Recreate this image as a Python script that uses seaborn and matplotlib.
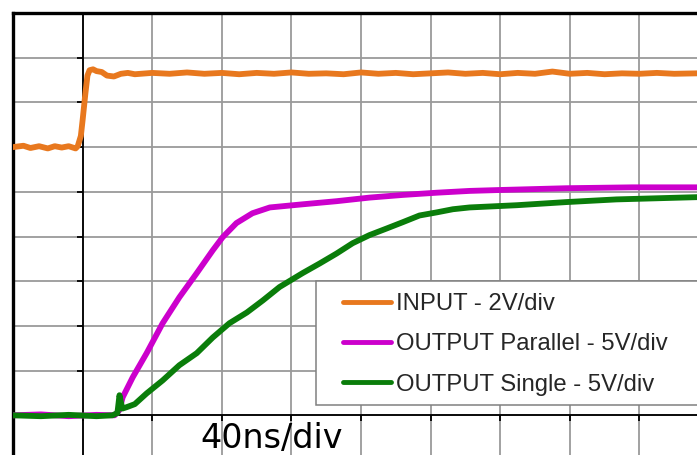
import matplotlib
matplotlib.use("Agg")
import matplotlib.pyplot as plt
import seaborn as sns
import pandas as pd
from matplotlib.patches import Rectangle

# ---- data (time in ns, amplitude in screen divisions) ----
input_t = [-40, -34, -30, -25, -20, -16, -12, -8, -4, -2.8, -1, 0, 1.6, 2.8, 4, 6, 8, 11, 14, 18, 22,
           26, 30, 40, 50, 60, 70, 80, 90, 100, 110, 120, 130, 140, 150, 160, 170, 180, 190, 200,
           210, 220, 230, 240, 250, 260, 270, 280, 290, 300, 310, 320, 330, 340, 353]
input_v = [6.00, 6.03, 5.98, 6.02, 5.97, 6.02, 5.99, 6.02, 5.97, 6.02, 6.25, 6.6, 7.2, 7.6, 7.72,
           7.74, 7.70, 7.68, 7.60, 7.58, 7.64, 7.66, 7.63, 7.66, 7.64, 7.67, 7.64, 7.66, 7.63,
           7.66, 7.64, 7.67, 7.64, 7.65, 7.63, 7.67, 7.64, 7.66, 7.63, 7.65, 7.67, 7.64, 7.66,
           7.63, 7.66, 7.64, 7.69, 7.64, 7.66, 7.63, 7.65, 7.64, 7.66, 7.64, 7.65]

par_t = [-40, -24, -8, 8, 18.4, 21.2, 23, 28.8, 36.8, 46, 55.6, 65.6, 74.8, 80.4, 88.4,
         97.6, 107.6, 126.4, 146, 164.8, 184, 203.6, 222.4, 239.6, 278, 316, 353]
par_v = [0.00, 0.02, -0.02, 0.01, 0.00, 0.12, 0.40, 0.85, 1.39, 2.06, 2.64, 3.18, 3.69,
         3.98, 4.30, 4.52, 4.65, 4.72, 4.79, 4.87, 4.93, 4.98, 5.02, 5.04, 5.08, 5.10, 5.10]

sgl_t = [-40, -24, -8, 8, 17.2, 20, 21.2, 22.8, 25.2, 30, 36.8, 46, 55.6, 65.6, 74.8,
         84.4, 94.4, 103.6, 113.2, 126.4, 136.4, 146, 155.2, 164.8, 174.8, 184, 193.6,
         203.6, 212.8, 222.4, 249.6, 278, 306.8, 353]
sgl_v = [0.00, -0.02, 0.01, -0.02, 0.00, 0.05, 0.45, 0.15, 0.18, 0.25, 0.49, 0.78, 1.12,
         1.39, 1.74, 2.06, 2.30, 2.57, 2.87, 3.18, 3.40, 3.62, 3.85, 4.03, 4.18, 4.32,
         4.47, 4.54, 4.61, 4.65, 4.70, 4.77, 4.83, 4.88]

labels = ["INPUT - 2V/div", "OUTPUT Parallel - 5V/div", "OUTPUT Single - 5V/div"]
colors = ["#E8781E", "#CC00CC", "#0A7D0A"]
x_div = list(range(-40, 361, 40))
y_div = list(range(-1, 10))

sns.set_style("white")
plt.rcParams['font.family'] = ['Liberation Sans', 'DejaVu Sans']

W, H = 697, 455
fig = plt.figure(figsize=(W / 100, H / 100), dpi=100)
# axes box extends slightly past the right and bottom image edges (cropped scope screen)
ax = fig.add_axes([13 / W, (H - 460) / H, 696 / W, 447 / H])
ax.set_xlim(-40, 360)
ax.set_ylim(-1, 9)

ax.set_xticks(x_div)
ax.set_yticks(y_div)
ax.tick_params(length=0, labelbottom=False, labelleft=False)
ax.grid(True, color="#9a9a9a", linewidth=1.3)
for s in ["right", "bottom"]:
    ax.spines[s].set_visible(False)
for s in ["left", "top"]:
    ax.spines[s].set_color("black")
    ax.spines[s].set_linewidth(2.4)

# centre axes with small tick marks
ax.axvline(0, color="black", lw=1.3, zorder=1.5)
ax.axhline(0, color="black", lw=1.3, zorder=1.5)
ax.plot([0] * len(y_div), y_div, linestyle="none", marker=0, markersize=4,
        markeredgewidth=1.3, color="black", zorder=1.5)
ax.plot(x_div, [0] * len(x_div), linestyle="none", marker=3, markersize=4,
        markeredgewidth=1.3, color="black", zorder=1.5)

series = [(input_t, input_v), (par_t, par_v), (sgl_t, sgl_v)]
for (t, v), lab, c in zip(series, labels, colors):
    df = pd.DataFrame({"t": t, "v": v})
    sns.lineplot(data=df, x="t", y="v", ax=ax, color=c, lw=4.2, sort=False,
                 label=lab, estimator=None, zorder=3)
ax.set_xlabel("")
ax.set_ylabel("")

ax.text(2.72 * 40, -0.74, "40ns/div", fontsize=24, family="DejaVu Sans",
        ha="center", va="baseline", color="black", zorder=4)

# legend frame
rect = Rectangle((316 / W, 1 - 405 / H), 1.02 - 316 / W, (405 - 281) / H,
                 transform=fig.transFigure, facecolor="white", edgecolor="#808080",
                 lw=1.1, zorder=10, clip_on=False)
ax.add_patch(rect)
leg = ax.legend(loc="upper left", bbox_to_anchor=(343 / W, 1 - 293 / H),
                bbox_transform=fig.transFigure, frameon=False, fontsize=17.2,
                handlelength=2.0, handletextpad=0.22, labelspacing=0.77,
                borderpad=0, borderaxespad=0)
leg.set_zorder(11)
for line in leg.get_lines():
    line.set_linewidth(3.5)

fig.savefig("out.png", dpi=100)
